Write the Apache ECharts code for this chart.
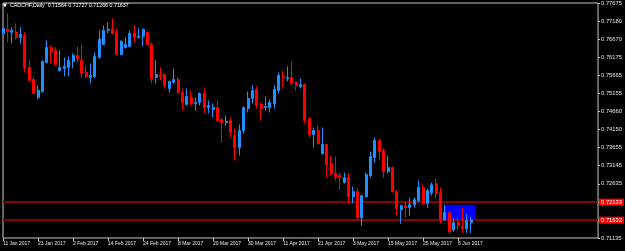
<!DOCTYPE html>
<html><head><meta charset="utf-8">
<script src="https://cdn.jsdelivr.net/npm/echarts@6/dist/echarts.min.js"></script>
<style>html,body{margin:0;padding:0;background:#000;}#c{width:625px;height:251px;}</style>
</head><body><div id="c"></div>
<script>
const symbolName = 'CADCHF,Daily';
const headerValues = ['0.71564', '0.71727', '0.71266', '0.71637'];
const firstDate = '2017-01-11';
const totalSlots = 137;
const opens = [0.76830,0.76942,0.76858,0.76858,0.76719,0.76775,0.75882,0.75548,0.75046,0.75213,
0.76022,0.76440,0.76356,0.75799,0.75854,0.75882,0.76050,0.76217,0.76077,0.75743,
0.75603,0.75631,0.76161,0.76523,0.76914,0.76942,0.76858,0.76245,0.76440,0.76468,
0.76830,0.76719,0.76747,0.76858,0.76523,0.75603,0.75687,0.75687,0.75297,0.75464,
0.75548,0.75185,0.74851,0.75046,0.74879,0.74907,0.75157,0.74767,0.74711,0.74767,
0.74433,0.74349,0.74405,0.73987,0.73652,0.74126,0.74739,0.75018,0.75269,0.74851,
0.74767,0.74767,0.74879,0.75241,0.75631,0.75576,0.75603,0.75464,0.75353,0.75408,
0.74461,0.74014,0.74126,0.73485,0.73736,0.73206,0.72927,0.72871,0.72676,0.72815,
0.72286,0.72425,0.71700,0.72286,0.72871,0.73373,0.73847,0.73568,0.72983,0.73094,
0.72425,0.71923,0.72035,0.71979,0.72063,0.72174,0.72537,0.72091,0.72397,0.72648,
0.72397,0.71644,0.71840,0.71366,0.71561,0.71449,0.71394,0.71564];
const closes = [0.76970,0.76886,0.76914,0.76719,0.76802,0.75882,0.75520,0.75157,0.75241,0.76050,
0.76440,0.76328,0.75966,0.75882,0.75910,0.76077,0.76217,0.76133,0.75715,0.75631,
0.75659,0.76189,0.76663,0.76914,0.76942,0.76830,0.76245,0.76607,0.76523,0.76830,
0.76719,0.76747,0.76942,0.76523,0.75576,0.75687,0.75631,0.75380,0.75492,0.75548,
0.75185,0.74907,0.75074,0.74879,0.74907,0.75157,0.74767,0.74823,0.74767,0.74405,
0.74349,0.74377,0.74070,0.73652,0.74126,0.74767,0.75018,0.75241,0.74823,0.74739,
0.74795,0.74907,0.75269,0.75659,0.75603,0.75603,0.75436,0.75380,0.75408,0.74405,
0.74014,0.74126,0.73764,0.73736,0.73178,0.72927,0.72843,0.72815,0.72815,0.72286,
0.72425,0.71700,0.72314,0.72899,0.73401,0.73847,0.73541,0.72983,0.73094,0.72425,
0.71951,0.72035,0.71979,0.72063,0.72202,0.72537,0.72091,0.72453,0.72620,0.72369,
0.71644,0.71840,0.71310,0.71561,0.71477,0.71394,0.71617,0.71637];
const lows = [0.76802,0.76579,0.76551,0.76663,0.76551,0.75743,0.75492,0.75130,0.74990,0.75185,
0.75994,0.75994,0.75938,0.75771,0.75631,0.75631,0.75854,0.76022,0.75603,0.75576,
0.75436,0.75576,0.76133,0.76496,0.76830,0.76802,0.76217,0.76217,0.76412,0.76440,
0.76579,0.76691,0.76468,0.76496,0.75436,0.75436,0.75520,0.75297,0.75185,0.75436,
0.75157,0.74684,0.74823,0.74823,0.74684,0.74823,0.74600,0.74600,0.74488,0.74377,
0.73791,0.74265,0.73931,0.73289,0.73429,0.74042,0.74628,0.74879,0.74739,0.74405,
0.74684,0.74628,0.74739,0.75157,0.75297,0.75492,0.75380,0.75241,0.75297,0.74321,
0.73931,0.73652,0.73736,0.73457,0.72815,0.72871,0.72732,0.72481,0.72648,0.72091,
0.72091,0.71644,0.71477,0.72258,0.72815,0.73234,0.73289,0.72815,0.72927,0.72397,
0.71756,0.71533,0.71700,0.71756,0.71979,0.72118,0.72063,0.71979,0.72314,0.72230,
0.71533,0.71617,0.71254,0.71310,0.71366,0.71282,0.71282,0.71266];
const highs = [0.76998,0.77388,0.76998,0.77109,0.76998,0.76858,0.76105,0.75631,0.75380,0.76077,
0.76635,0.76496,0.76440,0.76356,0.76161,0.76189,0.76273,0.76468,0.76523,0.75938,
0.75994,0.76300,0.76914,0.77053,0.77137,0.77249,0.76970,0.76635,0.76719,0.76914,
0.77053,0.76970,0.76970,0.76886,0.76579,0.76077,0.75882,0.75715,0.75520,0.75854,
0.75603,0.75297,0.75297,0.75241,0.75046,0.75185,0.75297,0.74962,0.74879,0.74962,
0.74461,0.74544,0.74488,0.74182,0.74293,0.74795,0.75213,0.75380,0.75353,0.74907,
0.75074,0.74990,0.75380,0.75743,0.75771,0.75910,0.76050,0.75492,0.75576,0.75436,
0.74488,0.74210,0.74265,0.74210,0.73764,0.73429,0.73401,0.72955,0.72955,0.72927,
0.72565,0.72537,0.72341,0.72955,0.73541,0.73931,0.73903,0.73624,0.73429,0.73122,
0.72481,0.72063,0.72146,0.72258,0.72258,0.72732,0.72620,0.72509,0.72676,0.72788,
0.72537,0.72063,0.71895,0.71700,0.71700,0.71979,0.71812,0.71727];
const yTickLabels = ['0.71135','','','0.72635','0.73145','0.73655','0.74150','0.74660','0.75155','0.75665','0.76175','0.76670','0.77180','0.77675'];
const yMin = 0.71135, yMax = 0.77675;
const hLines = [0.72133, 0.71632];
const hLineLabels = ['0.72133', '0.71632'];
const zoneStart = 101, zoneEnd = 108;
const zoneLow = 0.71632, zoneHigh = 0.72060;
const lastLabelIndex = 104;

const months = ['Jan','Feb','Mar','Apr','May','Jun','Jul','Aug','Sep','Oct','Nov','Dec'];
const categories = [];
let d = new Date(firstDate + 'T00:00:00Z');
while (categories.length < totalSlots) {
  const wd = d.getUTCDay();
  if (wd !== 0 && wd !== 6) categories.push(d.getUTCDate() + ' ' + months[d.getUTCMonth()] + ' ' + d.getUTCFullYear());
  d.setUTCDate(d.getUTCDate() + 1);
}
const candles = opens.map((o, i) => [o, closes[i], lows[i], highs[i]]);
const showTick = (i) => i % 8 === 0 && i <= lastLabelIndex;

const FONT = 'Liberation Sans';
const AX = '#c8c8c8';
const chart = echarts.init(document.getElementById('c'), null, {renderer: 'canvas'});
chart.setOption({
  backgroundColor: '#000000',
  animation: false,
  grid: {left: 2, top: 2, right: 23, bottom: 13, show: true, borderColor: AX, borderWidth: 1, backgroundColor: 'transparent'},
  xAxis: {
    type: 'category', data: categories, boundaryGap: false,
    axisLine: {show: false},
    axisTick: {show: true, interval: showTick, length: 3, lineStyle: {color: AX}},
    axisLabel: {interval: showTick, align: 'left', color: '#e6e6e6', fontSize: 5, fontFamily: FONT, margin: 3},
    splitLine: {show: false}
  },
  yAxis: [
    {type: 'value', min: yMin, max: yMax, show: false},
    {type: 'category', data: yTickLabels, boundaryGap: false, position: 'right',
     axisLine: {show: false},
     axisTick: {show: true, length: 2, lineStyle: {color: AX}},
     axisLabel: {interval: 0, color: '#e6e6e6', fontSize: 5.8, fontFamily: FONT, margin: 3},
     splitLine: {show: false}}
  ],
  graphic: [
    {type: 'text', left: 3, top: 3, style: {text: '\u25BC', fill: '#ffffff', fontSize: 5, fontFamily: 'DejaVu Sans'}},
    {type: 'text', left: 10, top: 3, style: {text: symbolName + '  ' + headerValues.join(' '), fill: '#ffffff', fontSize: 5.3, fontFamily: FONT}}
  ],
  series: [
    {
      type: 'candlestick', data: candles, xAxisIndex: 0, yAxisIndex: 0, z: 3,
      barWidth: 2.5,
      itemStyle: {color: '#1e90ff', color0: '#ff0000', borderColor: '#1e90ff', borderColor0: '#ff0000', borderWidth: 1},
      markArea: {silent: true, z: 1, itemStyle: {color: '#0000ff', opacity: 1},
        data: [[{xAxis: categories[zoneStart], yAxis: zoneHigh}, {xAxis: categories[zoneEnd], yAxis: zoneLow}]]},
      markLine: {silent: true, z: 1, symbol: 'none', animation: false, precision: 5,
        lineStyle: {color: '#8b0000', width: 2, type: 'solid'},
        label: {position: 'end', distance: 1, backgroundColor: '#ff0000', color: '#ffffff', fontSize: 5.8, fontFamily: FONT, padding: [1, 2, 0, 2]},
        data: hLines.map((v, i) => ({yAxis: v, label: {formatter: hLineLabels[i]}}))}
    }
  ]
});
</script></body></html>
